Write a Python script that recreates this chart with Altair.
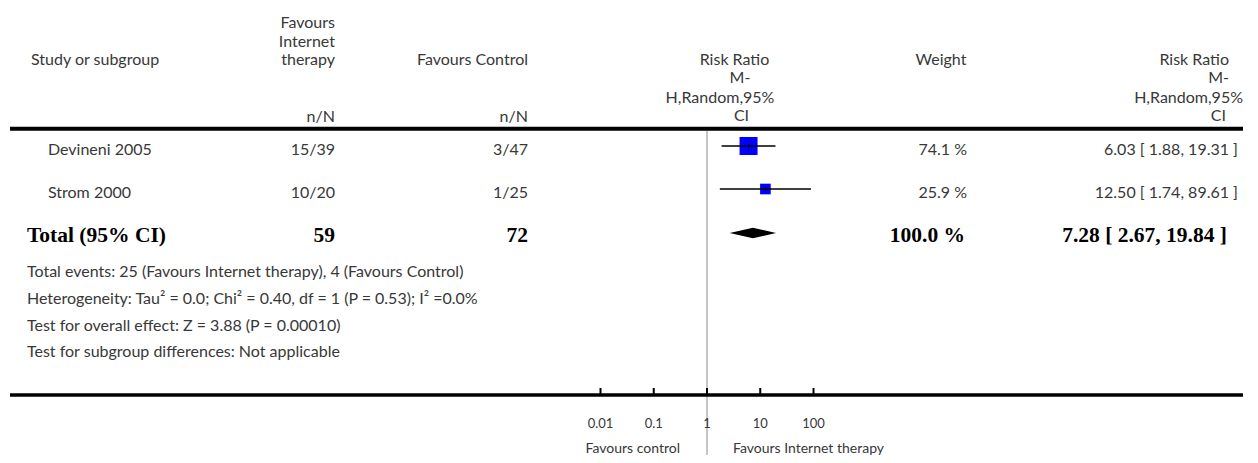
import altair as alt
import pandas as pd

# ---------------- data ----------------
studies = ["Devineni 2005", "Strom 2000"]
internet_nN = ["15/39", "10/20"]
control_nN = ["3/47", "1/25"]
rr_est = [6.03, 12.50]
rr_low = [1.88, 1.74]
rr_high = [19.31, 89.61]
weights = [74.1, 25.9]

total_label = "Total (95% CI)"
total_internet = 59
total_control = 72
total_weight = 100.0
total_est = 7.28
total_low = 2.67
total_high = 19.84

footnotes = [
    "Total events: 25 (Favours Internet therapy), 4 (Favours Control)",
    "Heterogeneity: Tau\u00b2 = 0.0; Chi\u00b2 = 0.40, df = 1 (P = 0.53); I\u00b2 =0.0%",
    "Test for overall effect: Z = 3.88 (P = 0.00010)",
    "Test for subgroup differences: Not applicable",
]

axis_ticks = [0.01, 0.1, 1, 10, 100]
axis_tick_labels = ["0.01", "0.1", "1", "10", "100"]
null_value = 1
favours_left = "Favours control"
favours_right = "Favours Internet therapy"

header_study = "Study or subgroup"
header_internet = ["Favours", "Internet", "therapy"]
header_control = "Favours Control"
header_nN = "n/N"
header_rr = ["Risk Ratio", "M-", "H,Random,95%", "CI"]
header_weight = "Weight"

# ---------------- layout / style ----------------
W, H = 1242, 447
LOG_CENTER = 699.0     # pixel of RR = 1
DECADE = 53.25         # pixels per decade
SANS = "Lato"
SERIF = "Liberation Serif"
TXT = "#383838"

px_x = alt.Scale(domain=[0, W], nice=False, zero=False)
px_y = alt.Scale(domain=[0, H], nice=False, zero=False, reverse=True)
log_x = alt.Scale(type="log", nice=False,
                  domain=[10 ** ((0 - LOG_CENTER) / DECADE), 10 ** ((W - LOG_CENTER) / DECADE)])

COL_STUDY_HDR = 23
COL_STUDY = 40
COL_FOOT = 19
COL_INT_R = 327
COL_CTL_R = 520
COL_W_R = 959
COL_W_HDR = 933
COL_CI_R = 1230
COL_TOT_W_R = 957
COL_TOT_CI_R = 1219

HDR_Y = [15, 34, 51.5, 70, 90, 108.5]
ROW_TEXT_Y = [142, 185]
ROW_MARK_Y = [138, 181]
TOTAL_TEXT_Y = 228
TOTAL_MARK_Y = 225
FOOT_Y = [264, 291, 317.5, 344]
DIAMOND_HALF = 5.2


def text_layer(rows, align, size, font=SANS, weight="normal", color=TXT):
    df = pd.DataFrame(rows, columns=["text", "x", "y"])
    return alt.Chart(df).mark_text(
        align=align, baseline="middle", font=font, fontSize=size,
        fontWeight=weight, color=color
    ).encode(
        x=alt.X("x:Q", scale=px_x, axis=None),
        y=alt.Y("y:Q", scale=px_y, axis=None),
        text="text:N",
    )


# header text
hdr_left = text_layer([(header_study, COL_STUDY_HDR, HDR_Y[2])], "left", 16)
hdr_right_rows = [
    (header_internet[0], COL_INT_R, HDR_Y[0]),
    (header_internet[1], COL_INT_R, HDR_Y[1]),
    (header_internet[2], COL_INT_R, HDR_Y[2]),
    (header_nN, COL_INT_R, HDR_Y[5]),
    (header_control, COL_CTL_R, HDR_Y[2]),
    (header_nN, COL_CTL_R, HDR_Y[5]),
    (header_rr[0], 1221, HDR_Y[2]),
    (header_rr[1], 1221, HDR_Y[3]),
    (header_rr[2], 1235, HDR_Y[4]),
    (header_rr[3], 1218, HDR_Y[5] - 0.5),
]
hdr_right = text_layer(hdr_right_rows, "right", 16)
hdr_center_rows = [
    (header_rr[0], 726.5, HDR_Y[2]),
    (header_rr[1], 732, HDR_Y[3]),
    (header_rr[2], 712, HDR_Y[4]),
    (header_rr[3], 733.5, HDR_Y[5] - 1),
    (header_weight, COL_W_HDR, HDR_Y[2]),
]
hdr_center = text_layer(hdr_center_rows, "center", 16)

# body text
body_left_rows = [(s, COL_STUDY, y) for s, y in zip(studies, ROW_TEXT_Y)]
body_left_rows += [(f, COL_FOOT, y) for f, y in zip(footnotes, FOOT_Y)]
body_left = text_layer(body_left_rows, "left", 16)

body_right_rows = []
for i in range(len(studies)):
    y = ROW_TEXT_Y[i]
    body_right_rows.append((internet_nN[i], COL_INT_R, y))
    body_right_rows.append((control_nN[i], COL_CTL_R, y))
    body_right_rows.append((f"{weights[i]:.1f} %", COL_W_R, y))
    body_right_rows.append(
        (f"{rr_est[i]:.2f} [ {rr_low[i]:.2f}, {rr_high[i]:.2f} ]", COL_CI_R, y))
body_right = text_layer(body_right_rows, "right", 16)

tot_left = text_layer([(total_label, COL_FOOT, TOTAL_TEXT_Y)], "left", 21.5,
                      font=SERIF, weight="bold", color="#000000")
tot_right = text_layer([
    (str(total_internet), COL_INT_R, TOTAL_TEXT_Y),
    (str(total_control), COL_CTL_R, TOTAL_TEXT_Y),
    (f"{total_weight:.1f} %", COL_TOT_W_R, TOTAL_TEXT_Y),
    (f"{total_est:.2f} [ {total_low:.2f}, {total_high:.2f} ]", COL_TOT_CI_R, TOTAL_TEXT_Y),
], "right", 21.5, font=SERIF, weight="bold", color="#000000")

# forest plot marks
study_df = pd.DataFrame({
    "study": studies, "est": rr_est, "low": rr_low, "high": rr_high,
    "w": weights, "y": ROW_MARK_Y,
})
squares = alt.Chart(study_df).mark_square(color="#0000ff", opacity=1, strokeWidth=0).encode(
    x=alt.X("est:Q", scale=log_x, axis=None),
    y=alt.Y("y:Q", scale=px_y, axis=None),
    size=alt.Size("w:Q", scale=alt.Scale(domain=[0, 100], range=[0, 437]), legend=None),
)
ci_lines = alt.Chart(study_df).mark_rule(color="#000000", strokeWidth=1.5).encode(
    x=alt.X("low:Q", scale=log_x, axis=None),
    x2="high:Q",
    y=alt.Y("y:Q", scale=px_y, axis=None),
)
centre_ticks = alt.Chart(study_df).mark_tick(
    color="#000000", orient="vertical", size=5, thickness=1
).encode(
    x=alt.X("est:Q", scale=log_x, axis=None),
    y=alt.Y("y:Q", scale=px_y, axis=None),
)

diamond_df = pd.DataFrame({
    "v": [total_low, total_est, total_high],
    "top": [TOTAL_MARK_Y, TOTAL_MARK_Y - DIAMOND_HALF, TOTAL_MARK_Y],
    "bot": [TOTAL_MARK_Y, TOTAL_MARK_Y + DIAMOND_HALF, TOTAL_MARK_Y],
})
diamond = alt.Chart(diamond_df).mark_area(color="#000000", opacity=1).encode(
    x=alt.X("v:Q", scale=log_x, axis=None),
    y=alt.Y("top:Q", scale=px_y, axis=None),
    y2="bot:Q",
)

null_df = pd.DataFrame({"v": [null_value]})
null_line = alt.Chart(null_df).mark_rule(color="#8c8c8c", strokeWidth=1).encode(
    x=alt.X("v:Q", scale=log_x, axis=None),
    y=alt.value(122.7), y2=alt.value(H),
)

tick_df = pd.DataFrame({"v": axis_ticks, "label": axis_tick_labels})
tick_marks = alt.Chart(tick_df).mark_rule(color="#000000", strokeWidth=2).encode(
    x=alt.X("v:Q", scale=log_x, axis=None),
    y=alt.value(380), y2=alt.value(387),
)
tick_labels = alt.Chart(tick_df).mark_text(
    font=SANS, fontSize=13, color=TXT, baseline="middle", align="center"
).encode(
    x=alt.X("v:Q", scale=log_x, axis=None),
    y=alt.value(416),
    text="label:N",
)

fav_df = pd.DataFrame({"v": [null_value], "left": [favours_left], "right": [favours_right]})
fav_left = alt.Chart(fav_df).mark_text(
    font=SANS, fontSize=14, color=TXT, align="right", baseline="alphabetic", dx=-27
).encode(x=alt.X("v:Q", scale=log_x, axis=None), y=alt.value(445), text="left:N")
fav_right = alt.Chart(fav_df).mark_text(
    font=SANS, fontSize=14, color=TXT, align="left", baseline="alphabetic", dx=26
).encode(x=alt.X("v:Q", scale=log_x, axis=None), y=alt.value(445), text="right:N")

dummy = alt.Data(values=[{"k": 0}])
top_rule = alt.Chart(dummy).mark_rule(color="#000000", strokeWidth=4).encode(
    x=alt.value(2), x2=alt.value(1235), y=alt.value(120.7))
bottom_rule = alt.Chart(dummy).mark_rule(color="#000000", strokeWidth=3.5).encode(
    x=alt.value(2), x2=alt.value(1235), y=alt.value(387))

chart = alt.layer(
    null_line, squares, ci_lines, centre_ticks, diamond,
    top_rule, bottom_rule, tick_marks, tick_labels, fav_left, fav_right,
    hdr_left, hdr_right, hdr_center, body_left, body_right, tot_left, tot_right,
).resolve_scale(
    x="independent"
).properties(
    width=W, height=H, padding=0, autosize="none", background="white"
).configure_view(stroke=None)

chart.save("out.html", embed_options={"renderer": "svg", "actions": False})
